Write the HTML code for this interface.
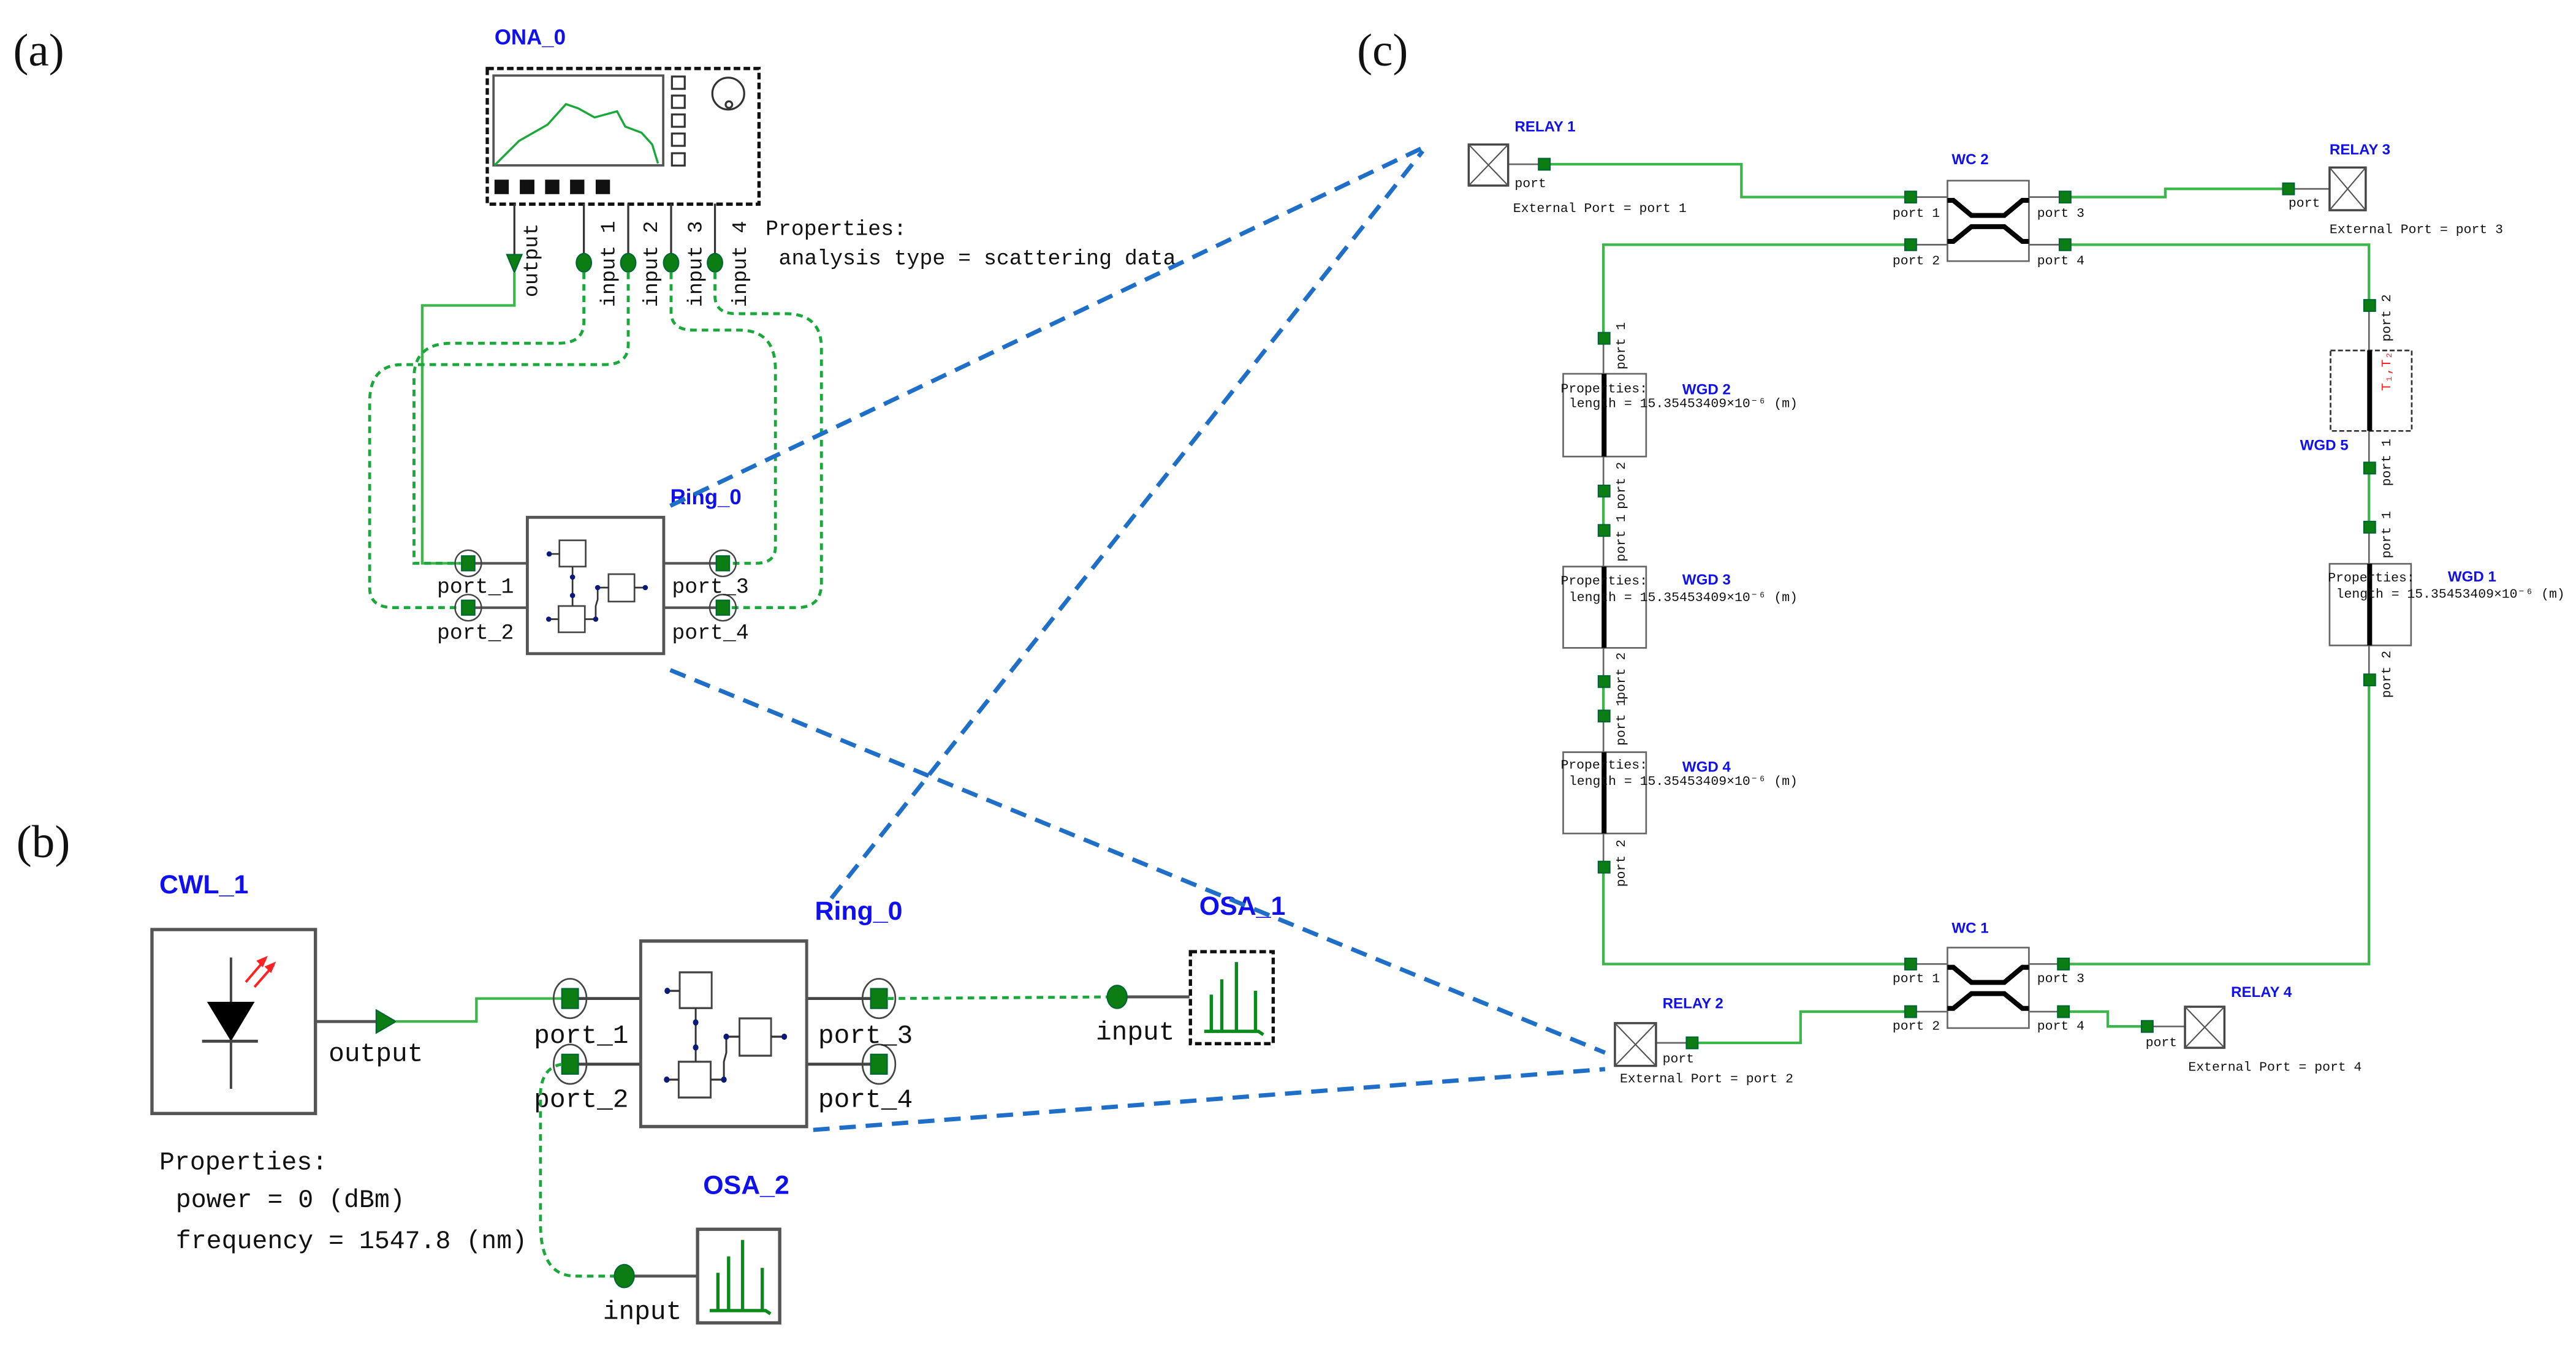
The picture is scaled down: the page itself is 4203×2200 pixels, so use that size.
<!DOCTYPE html>
<html><head><meta charset="utf-8"><style>
html,body{margin:0;padding:0;background:#fff;}
svg{display:block;}
.m{font-family:"Liberation Mono",monospace;fill:#111;}
.s{font-family:"Liberation Serif",serif;fill:#111;}
.b{font-family:"Liberation Sans Narrow","Liberation Sans",sans-serif;font-weight:bold;fill:#1010ee;}
.g{stroke:#3cb54a;fill:none;stroke-width:1.6;}
.gd{stroke:#1aa83a;fill:none;stroke-width:1.8;stroke-dasharray:4 3;}
.bl{stroke:#1f6fc8;fill:none;stroke-width:2.6;stroke-dasharray:10 6;}
.k{stroke:#555;fill:none;stroke-width:1.6;}
.ps{fill:#0b7d12;stroke:#063;stroke-width:0.8;}
</style></head><body>
<svg width="4203" height="2200" viewBox="0 0 1568 820.8" preserveAspectRatio="none" xmlns="http://www.w3.org/2000/svg">
<rect width="1568" height="821" fill="#fff"/>
<text class="s" x="8" y="40" font-size="28">(a)</text>
<text class="s" x="10" y="522" font-size="28">(b)</text>
<text class="s" x="826" y="40" font-size="28">(c)</text>

<!-- ===== (a) ===== -->
<text class="b" x="301" y="27" font-size="13">ONA_0</text>
<rect x="296.6" y="41.7" width="165.4" height="82.6" fill="#fff" stroke="#111" stroke-width="2" stroke-dasharray="4 2"/>
<rect x="300.4" y="46" width="103.3" height="54.7" fill="#fff" stroke="#555" stroke-width="1.4"/>
<polyline fill="none" stroke="#1aa83a" stroke-width="1.3" points="301,100.7 315.9,85.8 333.3,75.9 344.5,63.4 352,66 361.9,71.5 375.6,67.8 380.6,77.1 390.5,80.8 397,88 400.5,99.5"/>
<g fill="#fff" stroke="#333" stroke-width="1.2">
<rect x="409" y="46.6" width="7.8" height="7.5"/><rect x="409" y="58.2" width="7.8" height="7.5"/><rect x="409" y="69.7" width="7.8" height="7.5"/><rect x="409" y="81.3" width="7.8" height="7.5"/><rect x="409" y="93.3" width="7.8" height="7.5"/>
<circle cx="443.3" cy="57" r="9.7"/><circle cx="443.7" cy="63.7" r="2"/></g>
<g fill="#111"><rect x="301" y="109.4" width="8.7" height="8.8"/><rect x="316.4" y="109.4" width="8.9" height="8.8"/><rect x="331.8" y="109.4" width="8.7" height="8.8"/><rect x="347" y="109.4" width="8.7" height="8.8"/><rect x="362.6" y="109.4" width="8.7" height="8.8"/></g>
<g stroke="#333" stroke-width="1.2"><line x1="313.1" y1="124" x2="313.1" y2="158"/><line x1="355.4" y1="124" x2="355.4" y2="158"/><line x1="382.4" y1="124" x2="382.4" y2="158"/><line x1="408.5" y1="124" x2="408.5" y2="158"/><line x1="435.2" y1="124" x2="435.2" y2="158"/></g>
<polygon points="308.5,155 317.7,155 313.1,166" fill="#0b7d12" stroke="#063" stroke-width="0.8"/>
<g fill="#0b7d12" stroke="#063" stroke-width="0.8"><ellipse cx="355.4" cy="160" rx="4.6" ry="5.6"/><ellipse cx="382.4" cy="160" rx="4.6" ry="5.6"/><ellipse cx="408.5" cy="160" rx="4.6" ry="5.6"/><ellipse cx="435.2" cy="160" rx="4.6" ry="5.6"/></g>
<g class="m" font-size="12.5">
<text transform="translate(327,181) rotate(-90)">output</text>
<text transform="translate(374,187) rotate(-90)">input 1</text>
<text transform="translate(400,187) rotate(-90)">input 2</text>
<text transform="translate(427,187) rotate(-90)">input 3</text>
<text transform="translate(454,187) rotate(-90)">input 4</text>
<text x="466" y="143" font-size="13">Properties:</text>
<text x="474" y="161" font-size="13">analysis type = scattering data</text>
</g>
<!-- (a) connectors -->
<polyline class="g" stroke-width="2" points="313.1,166 313.1,186 257,186 257,343 285,343"/>
<path class="gd" d="M355.4,166 V196 Q355.4,209 340,209 H275 Q252,209 252,230 V343 H280"/>
<path class="gd" d="M382.4,166 V210 Q382.4,222 368,222 H245 Q225,222 225,245 V358 Q225,370 240,370 H280"/>
<path class="gd" d="M408.5,166 V190 Q408.5,201 422,201 H450 Q472,201 472,225 V333 Q472,343 460,343 H445"/>
<path class="gd" d="M435.2,166 V180 Q435.2,191 448,191 H478 Q500,191 500,212 V355 Q500,370 485,370 H445"/>
<!-- (a) ring -->
<text class="b" x="408" y="307" font-size="13">Ring_0</text>
<g class="k" stroke="#444"><line x1="285" y1="343" x2="321" y2="343"/><line x1="285" y1="370" x2="321" y2="370"/><line x1="404" y1="343" x2="440" y2="343"/><line x1="404" y1="370" x2="440" y2="370"/></g>
<g transform="translate(321,315)">
<rect x="0" y="0" width="83" height="83" fill="#fff" stroke="#555" stroke-width="1.8"/>
<g fill="#fff" stroke="#444" stroke-width="1"><rect x="19.5" y="14" width="16" height="16"/><rect x="19" y="54" width="16" height="16"/><rect x="49.4" y="34.6" width="15.8" height="16.7"/></g>
<g stroke="#333" stroke-width="1" fill="none"><line x1="13.3" y1="22.3" x2="19.5" y2="22.3"/><line x1="27.5" y1="30" x2="27.5" y2="54"/><line x1="13" y1="62" x2="19" y2="62"/><line x1="35" y1="62" x2="41.6" y2="62"/><polyline points="41.6,62 41.6,54 42.8,50 42.8,42.8 49.4,42.8"/><line x1="65.2" y1="42.8" x2="71.8" y2="42.8"/></g>
<g fill="#0a1a7a"><circle cx="13.3" cy="22.3" r="1.6"/><circle cx="27.5" cy="36.4" r="1.6"/><circle cx="27.5" cy="47.6" r="1.6"/><circle cx="13" cy="62" r="1.6"/><circle cx="41.6" cy="62" r="1.6"/><circle cx="42.8" cy="42.8" r="1.6"/><circle cx="71.8" cy="42.8" r="1.6"/></g>
</g>
<g fill="none" stroke="#444" stroke-width="0.9"><circle cx="285" cy="343" r="8"/><circle cx="285" cy="370" r="8"/><circle cx="440" cy="343" r="8"/><circle cx="440" cy="370" r="8"/></g>
<g class="ps"><rect x="281" y="338.5" width="8" height="9"/><rect x="281" y="365.5" width="8" height="9"/><rect x="436" y="338.5" width="8" height="9"/><rect x="436" y="365.5" width="8" height="9"/></g>
<g class="m" font-size="13"><text x="266" y="361">port_1</text><text x="266" y="389">port_2</text><text x="409" y="361">port_3</text><text x="409" y="389">port_4</text></g>

<!-- ===== (b) ===== -->
<text class="b" x="97" y="544" font-size="16">CWL_1</text>
<rect x="92.5" y="566" width="99.5" height="112" fill="#fff" stroke="#555" stroke-width="2"/>
<line x1="140.6" y1="583" x2="140.6" y2="663" stroke="#444" stroke-width="1.5"/>
<polygon points="126,610 155,610 140.6,634" fill="#000"/>
<line x1="123" y1="634" x2="157" y2="634" stroke="#444" stroke-width="1.8"/>
<g stroke="#f22" stroke-width="1.5"><line x1="149.6" y1="598" x2="161.6" y2="584"/><line x1="154.9" y1="601" x2="166.7" y2="587.5"/></g>
<g fill="#f22"><polygon points="163,582 156,585 160,589"/><polygon points="168,585.5 161,588.5 165,592.5"/></g>
<line x1="192" y1="622" x2="229" y2="622" stroke="#555" stroke-width="1.8"/>
<polygon points="229,615 229,629 241,622" fill="#0b7d12" stroke="#063" stroke-width="0.8"/>
<text class="m" x="200" y="646" font-size="16">output</text>
<polyline class="g" stroke-width="2.2" points="241,622 290,622 290,608 345,608"/>
<g class="m" font-size="15.5"><text x="97" y="712">Properties:</text><text x="107" y="735">power = 0 (dBm)</text><text x="107" y="760">frequency = 1547.8 (nm)</text></g>

<text class="b" x="496" y="560" font-size="16">Ring_0</text>
<g stroke="#444" stroke-width="1.8"><line x1="347" y1="608" x2="391" y2="608"/><line x1="347" y1="648" x2="391" y2="648"/><line x1="491" y1="608" x2="535" y2="608"/><line x1="491" y1="648" x2="535" y2="648"/></g>
<g transform="translate(390,573) scale(1.217,1.361)">
<rect x="0" y="0" width="83" height="83" fill="#fff" stroke="#555" stroke-width="1.5"/>
<g fill="#fff" stroke="#444" stroke-width="0.9"><rect x="19.5" y="14" width="16" height="16"/><rect x="19" y="54" width="16" height="16"/><rect x="49.4" y="34.6" width="15.8" height="16.7"/></g>
<g stroke="#333" stroke-width="0.9" fill="none"><line x1="13.3" y1="22.3" x2="19.5" y2="22.3"/><line x1="27.5" y1="30" x2="27.5" y2="54"/><line x1="13" y1="62" x2="19" y2="62"/><line x1="35" y1="62" x2="41.6" y2="62"/><polyline points="41.6,62 41.6,54 42.8,50 42.8,42.8 49.4,42.8"/><line x1="65.2" y1="42.8" x2="71.8" y2="42.8"/></g>
<g fill="#0a1a7a"><circle cx="13.3" cy="22.3" r="1.4"/><circle cx="27.5" cy="36.4" r="1.4"/><circle cx="27.5" cy="47.6" r="1.4"/><circle cx="13" cy="62" r="1.4"/><circle cx="41.6" cy="62" r="1.4"/><circle cx="42.8" cy="42.8" r="1.4"/><circle cx="71.8" cy="42.8" r="1.4"/></g>
</g>
<g fill="none" stroke="#444" stroke-width="1"><ellipse cx="347" cy="608" rx="10" ry="12"/><ellipse cx="347" cy="648" rx="10" ry="12"/><ellipse cx="535" cy="608" rx="10" ry="12"/><ellipse cx="535" cy="648" rx="10" ry="12"/></g>
<g class="ps"><rect x="342" y="602" width="10" height="12"/><rect x="342" y="642" width="10" height="12"/><rect x="530" y="602" width="10" height="12"/><rect x="530" y="642" width="10" height="12"/></g>
<g class="m" font-size="16"><text x="325" y="635">port_1</text><text x="325" y="674">port_2</text><text x="498" y="635">port_3</text><text x="498" y="674">port_4</text></g>
<path class="gd" stroke-width="2" d="M540,608 L680,607"/>
<path class="gd" stroke-width="1.8" d="M342,648 Q330,650 329,665 V745 Q329,777 350,777 H380"/>

<text class="b" x="730" y="557" font-size="16">OSA_1</text>
<line x1="680" y1="607" x2="724" y2="607" stroke="#555" stroke-width="1.8"/>
<ellipse cx="680" cy="607" rx="6" ry="7" fill="#0b7d12" stroke="#063" stroke-width="0.8"/>
<text class="m" x="667" y="633" font-size="16">input</text>
<rect x="724.6" y="579.5" width="50.4" height="56" fill="#fff" stroke="#111" stroke-width="2" stroke-dasharray="4 2"/>
<g stroke="#0a8a1a" stroke-width="2" fill="none"><polyline points="733,628 766,628 769,630"/><line x1="737.3" y1="628" x2="737.3" y2="605.6"/><line x1="743.7" y1="628" x2="743.7" y2="596.3"/><line x1="752.6" y1="628" x2="752.6" y2="585.8"/><line x1="764.2" y1="628" x2="764.2" y2="603.3"/></g>

<text class="b" x="428" y="727" font-size="16">OSA_2</text>
<line x1="380" y1="777" x2="424" y2="777" stroke="#555" stroke-width="1.8"/>
<ellipse cx="380" cy="777" rx="6" ry="7" fill="#0b7d12" stroke="#063" stroke-width="0.8"/>
<text class="m" x="367" y="803" font-size="16">input</text>
<rect x="424.6" y="748.5" width="50" height="57" fill="#fff" stroke="#555" stroke-width="2"/>
<g stroke="#0a8a1a" stroke-width="2" fill="none"><polyline points="432,798 466,798 469,800"/><line x1="437" y1="798" x2="437" y2="775"/><line x1="443.5" y1="798" x2="443.5" y2="765"/><line x1="452" y1="798" x2="452" y2="755"/><line x1="464" y1="798" x2="464" y2="772"/></g>

<!-- ===== (c) ===== -->
<g class="g" stroke-width="1.3">
<polyline points="940,100 1060,100 1060,120 1163,120"/>
<polyline points="1257,120 1318,120 1318,115 1393,115"/>
<polyline points="1163,149 976,149 976,206"/>
<polyline points="976,299 976,323"/>
<polyline points="976,415 976,436"/>
<polyline points="976,528 976,587 1163,587"/>
<polyline points="1256,587 1442,587 1442,414"/>
<polyline points="1442,321 1442,285"/>
<polyline points="1442,186 1442,149 1257,149"/>
<polyline points="1030,635 1096,635 1096,616 1163,616"/>
<polyline points="1256,616 1283,616 1283,625 1307,625"/>
</g>
<g stroke="#666" stroke-width="1">
<line x1="918" y1="100" x2="940" y2="100"/><line x1="1393" y1="115" x2="1418" y2="115"/>
<line x1="1008" y1="635" x2="1030" y2="635"/><line x1="1307" y1="625" x2="1330" y2="625"/>
<line x1="1163" y1="120" x2="1185" y2="120"/><line x1="1163" y1="149" x2="1185" y2="149"/><line x1="1235" y1="120" x2="1257" y2="120"/><line x1="1235" y1="149" x2="1257" y2="149"/>
<line x1="1163" y1="587" x2="1185" y2="587"/><line x1="1163" y1="616" x2="1185" y2="616"/><line x1="1235" y1="587" x2="1256" y2="587"/><line x1="1235" y1="616" x2="1256" y2="616"/>
<line x1="976" y1="206" x2="976" y2="299"/><line x1="976" y1="323" x2="976" y2="415"/><line x1="976" y1="436" x2="976" y2="528"/>
<line x1="1442" y1="186" x2="1442" y2="285"/><line x1="1442" y1="321" x2="1442" y2="414"/>
</g>
<!-- relays -->
<g fill="#fff" stroke="#444" stroke-width="1.3">
<rect x="894" y="88" width="24" height="25"/><rect x="1418" y="102" width="22" height="26"/><rect x="983" y="623" width="25" height="26"/><rect x="1330" y="613" width="24" height="25"/></g>
<g stroke="#555" stroke-width="0.8">
<path d="M894,88 L918,113 M918,88 L894,113"/><path d="M1418,102 L1440,128 M1440,102 L1418,128"/><path d="M983,623 L1008,649 M1008,623 L983,649"/><path d="M1330,613 L1354,638 M1354,613 L1330,638"/></g>
<!-- couplers -->
<g fill="#fff" stroke="#666" stroke-width="1"><rect x="1185.4" y="110" width="49.6" height="49"/><rect x="1185.4" y="577" width="49.6" height="49"/></g>
<g fill="none" stroke="#000" stroke-width="3">
<path d="M1185.4,122 H1189 L1200,131.2 H1220 L1231,122 H1235"/><path d="M1185.4,147 H1189 L1200,138 H1220 L1231,147 H1235"/>
<path d="M1185.4,589 H1189 L1200,598.2 H1220 L1231,589 H1235"/><path d="M1185.4,614 H1189 L1200,605 H1220 L1231,614 H1235"/></g>
<!-- WGD boxes -->
<g fill="#fff" stroke="#666" stroke-width="1">
<rect x="951.5" y="227.6" width="50.5" height="50.4"/><rect x="951.5" y="345" width="50.5" height="49.5"/><rect x="951.5" y="458" width="50.5" height="49.5"/><rect x="1418" y="343.3" width="49.6" height="49.7"/></g>
<rect x="1418.6" y="213.4" width="49.4" height="49" fill="#fff" stroke="#333" stroke-width="1" stroke-dasharray="3 1.5"/>
<g stroke="#000" stroke-width="3"><line x1="976.4" y1="227.6" x2="976.4" y2="278"/><line x1="976.4" y1="345" x2="976.4" y2="394.5"/><line x1="976.4" y1="458" x2="976.4" y2="507.5"/><line x1="1442.4" y1="343.3" x2="1442.4" y2="393"/><line x1="1442.4" y1="213.4" x2="1442.4" y2="262.4"/></g>
<!-- port squares -->
<g class="ps">
<rect x="936.5" y="96.5" width="7" height="7"/><rect x="1389.5" y="111.5" width="7" height="7"/><rect x="1026.5" y="631.5" width="7" height="7"/><rect x="1303.5" y="621.5" width="7" height="7"/>
<rect x="1159.5" y="116.5" width="7" height="7"/><rect x="1159.5" y="145.5" width="7" height="7"/><rect x="1253.5" y="116.5" width="7" height="7"/><rect x="1253.5" y="145.5" width="7" height="7"/>
<rect x="1159.5" y="583.5" width="7" height="7"/><rect x="1159.5" y="612.5" width="7" height="7"/><rect x="1252.5" y="583.5" width="7" height="7"/><rect x="1252.5" y="612.5" width="7" height="7"/>
<rect x="972.9" y="202.5" width="7" height="7"/><rect x="972.9" y="295.5" width="7" height="7"/><rect x="972.9" y="319.5" width="7" height="7"/><rect x="972.9" y="411.5" width="7" height="7"/><rect x="972.9" y="432.5" width="7" height="7"/><rect x="972.9" y="524.5" width="7" height="7"/>
<rect x="1438.9" y="182.5" width="7" height="7"/><rect x="1438.9" y="281.5" width="7" height="7"/><rect x="1438.9" y="317.5" width="7" height="7"/><rect x="1438.9" y="410.5" width="7" height="7"/></g>
<!-- (c) labels -->
<g class="b" font-size="9">
<text x="922" y="80">RELAY 1</text><text x="1418" y="94">RELAY 3</text><text x="1012" y="614">RELAY 2</text><text x="1358" y="607">RELAY 4</text>
<text x="1188" y="100">WC 2</text><text x="1188" y="568">WC 1</text>
<text x="1024" y="240">WGD 2</text><text x="1024" y="356">WGD 3</text><text x="1024" y="470">WGD 4</text><text x="1490" y="354">WGD 1</text><text x="1400" y="274">WGD 5</text></g>
<g class="m" font-size="8">
<text x="922" y="114">port</text><text x="921" y="129">External Port = port 1</text>
<text x="1393" y="126">port</text><text x="1418" y="142">External Port = port 3</text>
<text x="1012" y="647">port</text><text x="986" y="659">External Port = port 2</text>
<text x="1306" y="637">port</text><text x="1332" y="652">External Port = port 4</text>
<text x="1152" y="132">port 1</text><text x="1152" y="161">port 2</text><text x="1240" y="132">port 3</text><text x="1240" y="161">port 4</text>
<text x="1152" y="598">port 1</text><text x="1152" y="627">port 2</text><text x="1240" y="598">port 3</text><text x="1240" y="627">port 4</text>
<text x="950" y="239">Properties:</text><text x="955" y="248">length = 15.35453409×10⁻⁶ (m)</text>
<text x="950" y="356">Properties:</text><text x="955" y="366">length = 15.35453409×10⁻⁶ (m)</text>
<text x="950" y="468">Properties:</text><text x="955" y="478">length = 15.35453409×10⁻⁶ (m)</text>
<text x="1417" y="354">Properties:</text><text x="1422" y="364">length = 15.35453409×10⁻⁶ (m)</text>
<text transform="translate(989,225) rotate(-90)">port 1</text>
<text transform="translate(989,310) rotate(-90)">port 2</text>
<text transform="translate(989,342) rotate(-90)">port 1</text>
<text transform="translate(989,426) rotate(-90)">port 2</text>
<text transform="translate(989,454) rotate(-90)">port 1</text>
<text transform="translate(989,540) rotate(-90)">port 2</text>
<text transform="translate(1455,208) rotate(-90)">port 2</text>
<text transform="translate(1455,296) rotate(-90)">port 1</text>
<text transform="translate(1455,340) rotate(-90)">port 1</text>
<text transform="translate(1455,425) rotate(-90)">port 2</text>
<text transform="translate(1455,238) rotate(-90)" fill="#f22">T₁,T₂</text>
</g>

<!-- blue dashed -->
<line class="bl" x1="408" y1="308" x2="866" y2="90"/>
<line class="bl" x1="506" y1="547" x2="866" y2="92"/>
<line class="bl" x1="408" y1="408" x2="977" y2="641"/>
<line class="bl" x1="495" y1="688" x2="977" y2="651"/>
</svg>
</body></html>
